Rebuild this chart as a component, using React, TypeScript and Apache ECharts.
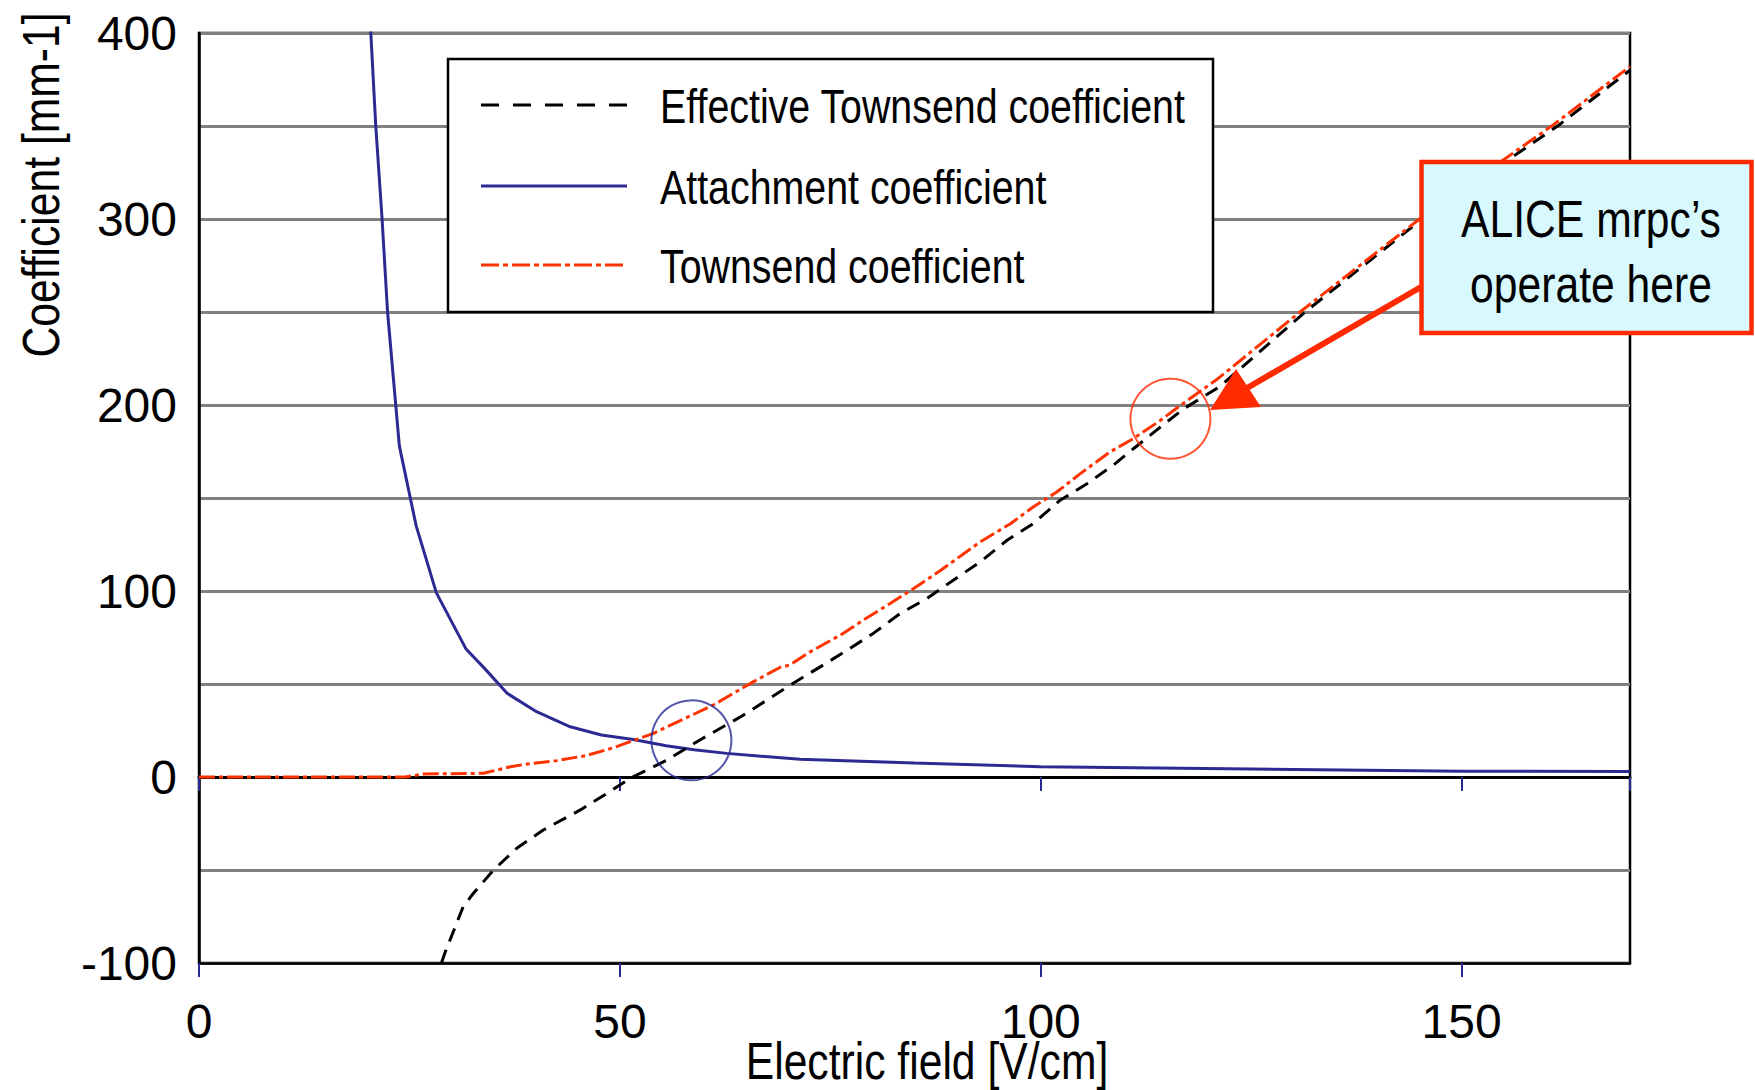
import React, { useEffect, useRef } from 'react';
import * as echarts from 'echarts';

const FONT = "'Liberation Sans', Arial, sans-serif";
const NARROW = 0.82; // horizontal squeeze that turns Arial metrics into Arial Narrow

// Electric field [V/cm] and coefficient [mm-1]
const E_ATT = [20.4, 21.0, 21.75, 22.4, 23.8, 25.8, 28.2, 31.7, 34.0, 36.6, 40.1, 44.1, 47.8, 51.6, 55.5, 58.8, 62.7, 71.4, 85, 100, 125, 150, 170];
const V_ATT = [401, 350, 300, 250, 178, 135, 99, 69, 58, 45, 35.1, 27, 22.6, 20.2, 16.8, 14.6, 12.7, 9.5, 7.5, 5.5, 4.3, 3.1, 3.0];

const E_EFF = [28.8, 29.2, 31.4, 32.6, 35.0, 37.75, 40.9, 45.3, 48.8, 51.2, 55.6, 59.5, 64.7, 70.4, 73.8, 77.0, 80.1, 83.3, 86.5, 89.6, 92.8, 96.0, 99.1, 102.3, 105.5, 108.6, 111.0, 114.2, 117.0, 121.3, 131.4, 145.3, 161.4, 170];
const V_EFF = [-100, -94.7, -69.6, -62.5, -50, -38.3, -28.5, -17.7, -7.9, -0.7, 9.1, 19.9, 33.3, 49.9, 59.2, 68.2, 77.2, 87.9, 96, 105.8, 115.6, 127.3, 136.2, 148.8, 157.7, 167.6, 176.5, 188.1, 198, 210, 250, 300, 350, 380];

const E_TOW = [0, 24.5, 26.7, 33.8, 37.0, 39.0, 42.5, 46.0, 49.2, 54.0, 57.5, 61.1, 65.5, 69.0, 70.2, 72.6, 76.2, 78.9, 82.1, 84.9, 88.0, 90.6, 92.8, 96.4, 99.1, 101.9, 104.7, 108.2, 111.0, 114.2, 116.6, 121.0, 130.8, 145.0, 161.0, 170];
const V_TOW = [0, 0, 1.6, 2.0, 5.5, 7.0, 8.8, 11.5, 15.7, 23.5, 31.0, 38.7, 50.3, 58.9, 60.2, 67.3, 76.3, 84.3, 93.3, 101.3, 110.8, 119.2, 126.4, 136.2, 145.2, 153.2, 163.1, 174.7, 181.9, 191.7, 199.8, 214, 250, 300, 351, 382];

// highlighted operating points (circles)
const MARK_E = [58.5, 115.4];
const MARK_V = [19.7, 192.6];

const X_MIN = 0, X_MAX = 170, X_STEP = 50;
const Y_MIN = -100, Y_MAX = 400, Y_STEP = 50;

const NAMES = ['Effective Townsend coefficient', 'Attachment coefficient', 'Townsend coefficient'];
const X_NAME = 'Electric field [V/cm]';
const Y_NAME = 'Coefficient [mm-1]';
const NOTE = 'ALICE mrpc’s\noperate here';

const NAVY = '#2b2a93';
const RED = '#ff3300';
const NOTE_RED = '#ff2a00';
const COLORS = ['#000000', NAVY, RED];
const DASHES: (number[] | null)[] = [[14, 9], null, [16, 4, 4, 4]];
const LEGEND_DASHES: (number[] | null)[] = [[18, 14], null, [18, 4, 5, 4]];
const WIDTHS = [3, 3, 3];

const zip = (a: number[], b: number[]) => a.map((v, i) => [v, b[i]]);

export default function App() {
  const ref = useRef<HTMLDivElement>(null);
  useEffect(() => {
    document.body.style.margin = '0';
    document.body.style.overflow = 'hidden';
    const chart = echarts.init(ref.current!, null, { renderer: 'svg' });
    const seriesData = [zip(E_EFF, V_EFF), zip(E_ATT, V_ATT), zip(E_TOW, V_TOW)];

    const legendRows = [105, 186, 265];
    const legendGraphics: any[] = [];
    NAMES.forEach((name, i) => {
      legendGraphics.push({
        type: 'line', z: 5, silent: true,
        shape: { x1: 481, y1: legendRows[i], x2: 627, y2: legendRows[i] },
        style: { stroke: COLORS[i], lineWidth: 3, lineDash: LEGEND_DASHES[i] || undefined },
      });
      legendGraphics.push({
        type: 'text', z: 5, silent: true, x: 660, y: legendRows[i] + 1, scaleX: NARROW,
        style: { text: name, fontSize: 48, fontFamily: FONT, fill: '#000', align: 'left', verticalAlign: 'middle' },
      });
    });

    chart.setOption({
      animation: false,
      backgroundColor: '#fff',
      grid: { left: 199, top: 33, right: 125, bottom: 127, show: true, borderColor: '#000', borderWidth: 2.5, backgroundColor: 'transparent', containLabel: false },
      xAxis: [
        {
          type: 'value', min: X_MIN, max: X_MAX, interval: X_STEP, position: 'bottom',
          axisLine: { show: true, onZero: false, lineStyle: { color: '#000', width: 2.5 } },
          axisTick: { show: true, length: 14, lineStyle: { color: NAVY, width: 2 } },
          axisLabel: { fontSize: 48, color: '#000', fontFamily: FONT, margin: 34, showMaxLabel: false },
          splitLine: { show: false },
        },
        {
          type: 'value', min: X_MIN, max: X_MAX, interval: X_STEP, position: 'bottom',
          axisLine: { show: true, onZero: true, lineStyle: { color: '#000', width: 3 } },
          axisTick: { show: true, length: 14, lineStyle: { color: NAVY, width: 2 } },
          axisLabel: { show: false },
          splitLine: { show: false },
        },
      ],
      yAxis: {
        type: 'value', min: Y_MIN, max: Y_MAX, interval: Y_STEP,
        axisLine: { show: true, onZero: false, lineStyle: { color: '#000', width: 2.5 } },
        axisTick: { show: false },
        axisLabel: {
          fontSize: 48, color: '#000', fontFamily: FONT, margin: 22, padding: [7, 0, 0, 0],
          formatter: (v: number) => (v % 100 === 0 ? String(v) : ''),
        },
        splitLine: { show: true, lineStyle: { color: '#808080', width: 3 } },
      },
      series: [
        ...NAMES.map((name, i) => ({
          name, type: 'line', symbol: 'none', data: seriesData[i],
          lineStyle: { color: COLORS[i], width: WIDTHS[i], type: DASHES[i] || 'solid' },
          itemStyle: { color: COLORS[i] }, z: [3, 2, 4][i],
        })),
        {
          name: 'marks', type: 'scatter', silent: true, symbol: 'circle', symbolSize: 80, z: 5,
          data: MARK_E.map((e, i) => ({
            value: [e, MARK_V[i]],
            itemStyle: { color: 'rgba(0,0,0,0)', borderColor: [NAVY, NOTE_RED][i], borderWidth: 2 },
          })),
        },
      ],
      graphic: [
        {
          type: 'rect', z: 3, silent: true,
          shape: { x: 448, y: 59, width: 765, height: 253 },
          style: { fill: '#fff', stroke: '#000', lineWidth: 2.5 },
        },
        ...legendGraphics,
        {
          type: 'text', z: 5, silent: true, x: 41, y: 185, rotation: Math.PI / 2, scaleX: NARROW,
          style: { text: Y_NAME, fontSize: 52, fontFamily: FONT, fill: '#000', align: 'center', verticalAlign: 'middle' },
        },
        {
          type: 'text', z: 5, silent: true, x: 927, y: 1061, scaleX: NARROW,
          style: { text: X_NAME, fontSize: 52, fontFamily: FONT, fill: '#000', align: 'center', verticalAlign: 'middle' },
        },
        {
          type: 'line', z: 7, silent: true,
          shape: { x1: 1421, y1: 287, x2: 1242, y2: 391 },
          style: { stroke: NOTE_RED, lineWidth: 6 },
        },
        {
          type: 'polygon', z: 7, silent: true,
          shape: { points: [[1210, 410], [1236, 369], [1261, 407]] },
          style: { fill: NOTE_RED },
        },
        {
          type: 'rect', z: 8, silent: true,
          shape: { x: 1421.5, y: 162, width: 330, height: 171 },
          style: { fill: '#d7f8fd', stroke: NOTE_RED, lineWidth: 4.5 },
        },
        {
          type: 'text', z: 9, silent: true, x: 1591, y: 251, scaleX: NARROW,
          style: {
            text: NOTE, fontSize: 52, lineHeight: 65, fontFamily: FONT,
            fill: '#000', align: 'center', verticalAlign: 'middle',
          },
        },
      ],
    });
    return () => chart.dispose();
  }, []);
  return <div ref={ref} style={{ width: 1755, height: 1090 }} />;
}
